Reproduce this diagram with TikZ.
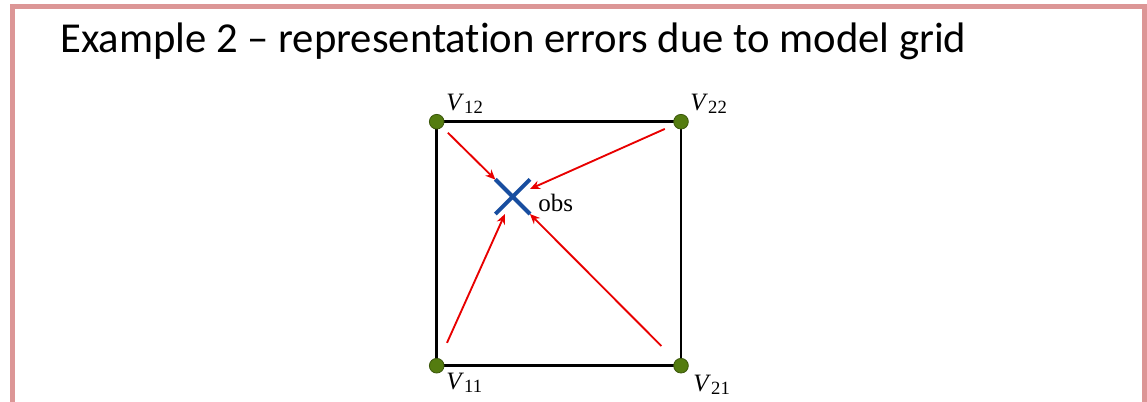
\documentclass[tikz,border=0pt]{standalone}
\usepackage{fontspec}
\setmainfont{Liberation Serif}
\newfontfamily\titlefont[Ligatures=NoCommon]{Carlito}
\usetikzlibrary{arrows.meta,shapes.misc}
\definecolor{framepink}{RGB}{220,150,150}
\definecolor{ptgreen}{RGB}{84,124,16}
\definecolor{obsblue}{RGB}{24,78,160}
\definecolor{errred}{RGB}{232,0,0}
\newcommand{\vsub}[1]{\textit{V}\kern0.01em\raisebox{-0.3ex}{\fontsize{14}{16}\selectfont #1}}

\begin{document}
\begin{tikzpicture}[x=0.75pt,y=-0.75pt,>={Stealth[length=7.5pt,width=6.5pt]},font=\fontsize{18.75}{22}\selectfont]
\tikzstyle{g}=[circle,draw=ptgreen!70!black,fill=ptgreen,minimum size=11pt,inner sep=0pt,line width=0.6pt]
\tikzstyle{e}=[->,draw=errred,fill=errred,line width=1.4pt]
\useasboundingbox (0,0) rectangle (1147,401);
\clip (0,0) rectangle (1147,401);
\draw[framepink,line width=3.8pt] (12.5,6.5) rectangle (1145,430);
\node[anchor=base west,inner sep=0pt,font=\titlefont\fontsize{32}{38}\selectfont] (title) at (60,52) {Example 2 – representation errors due to model grid};
% grid cell
\draw[line width=2.1pt] (436.7,121.7) rectangle (681,365.7);
\node[g] (v12) at (436.7,121.7) {};
\node[g] (v22) at (681,121.7) {};
\node[g] (v11) at (436.7,365.7) {};
\node[g] (v21) at (681,365.7) {};
\node[anchor=base west,inner sep=0pt] (l12) at (446,110) {\vsub{12}};
\node[anchor=base west,inner sep=0pt] (l22) at (690,110) {\vsub{22}};
\node[anchor=base west,inner sep=0pt] (l11) at (446,389) {\vsub{11}};
\node[anchor=base west,inner sep=0pt] (l21) at (693,391) {\vsub{21}};
% observation
\node[cross out,draw=obsblue,line width=3pt,minimum size=23pt,inner sep=0pt] (obs) at (512.7,196.7) {};
\node[anchor=base west,inner sep=0pt] (obslab) at (538,211.5) {obs};
\draw[e,shorten <=6pt] (v12) -- (obs);
\draw[e,shorten <=7.5pt] (v22) -- (obs);
\draw[e,shorten <=13pt] (v11) -- (obs);
\draw[e,shorten <=15pt] (v21) -- (obs);
\end{tikzpicture}
\end{document}
